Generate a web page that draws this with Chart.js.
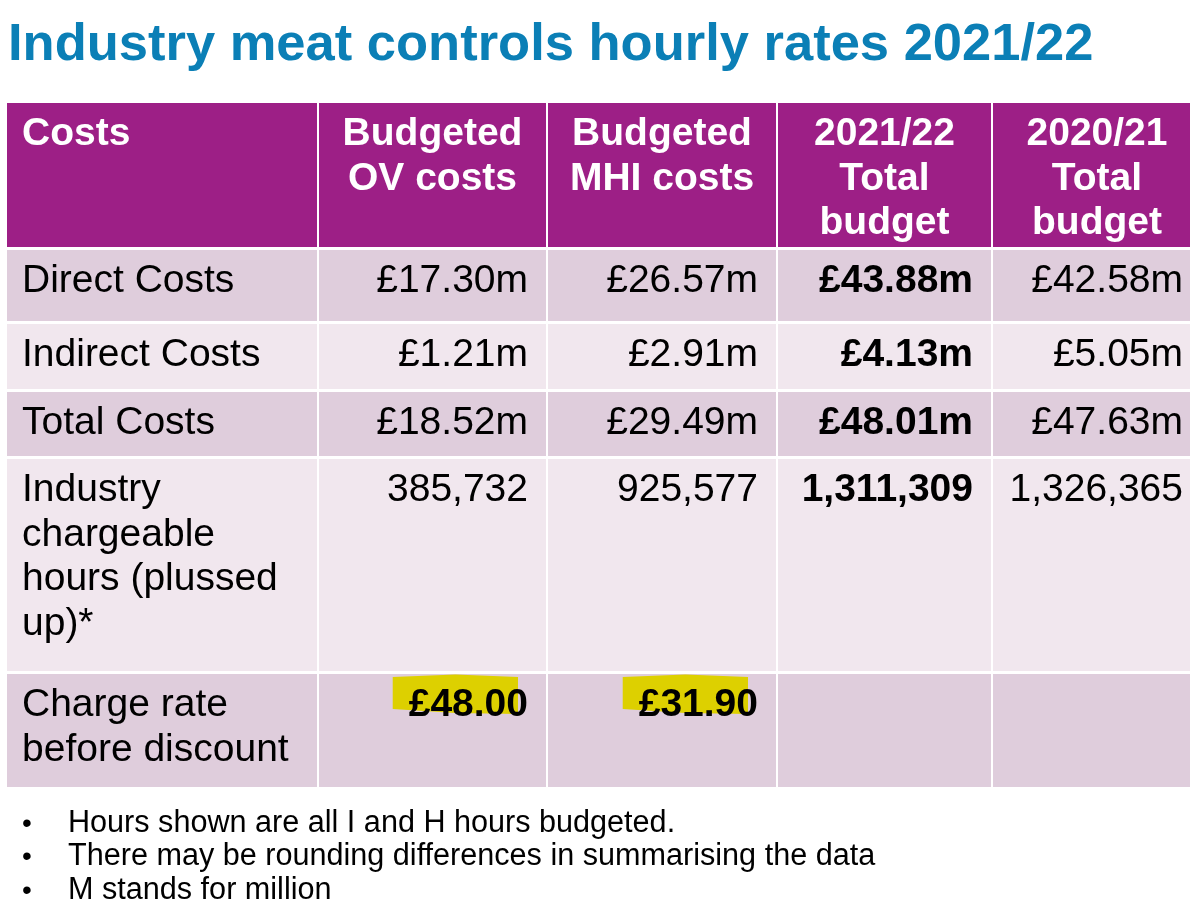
<!DOCTYPE html>
<html>
<head>
<meta charset="utf-8">
<title>Industry meat controls hourly rates 2021/22</title>
<script src="https://cdn.jsdelivr.net/npm/chart.js@4/dist/chart.umd.min.js"></script>
<style>
  html, body { margin: 0; padding: 0; background: #fff; }
  #wrap { width: 1190px; height: 900px; }
</style>
</head>
<body>
<div id="wrap"><canvas id="tableChart" width="1190" height="900"></canvas></div>
<script>
// ─── Data ─────────────────────────────────────
const title = 'Industry meat controls hourly rates 2021/22';
const headers = [
  ['Costs'],
  ['Budgeted', 'OV costs'],
  ['Budgeted', 'MHI costs'],
  ['2021/22', 'Total', 'budget'],
  ['2020/21', 'Total', 'budget'],
];
const rowLabels = [
  ['Direct Costs'],
  ['Indirect Costs'],
  ['Total Costs'],
  ['Industry', 'chargeable', 'hours (plussed', 'up)*'],
  ['Charge rate', 'before discount'],
];
const ovCosts    = ['£17.30m', '£1.21m', '£18.52m', '385,732', '£48.00'];
const mhiCosts   = ['£26.57m', '£2.91m', '£29.49m', '925,577', '£31.90'];
const total2122  = ['£43.88m', '£4.13m', '£48.01m', '1,311,309', ''];
const total2021  = ['£42.58m', '£5.05m', '£47.63m', '1,326,365', ''];
const highlighted = ['£48.00', '£31.90'];
const notes = [
  'Hours shown are all I and H hours budgeted.',
  'There may be rounding differences in summarising the data',
  'M stands for million',
];

// ─── Layout (value space of the x / y scales) ─
const colEdges = [7, 319, 548, 778, 993, 1203];
const rowEdges = [103, 250, 324, 392, 459, 674, 790];
const GAP = 3;
const boldCols = [3];            // 2021/22 column is bold
const FONT = '"Liberation Sans", Arial, sans-serif';
const C = {
  title: '#0b7fb6',
  head: '#9d1f86',
  dark: '#dfcddc',
  light: '#f1e7ee',
  text: '#000',
  mark: '#ddd000',
};

function drawText(ctx, text, x, y, font, align) {
  ctx.font = font;
  ctx.textAlign = align;
  ctx.textBaseline = 'alphabetic';
  ctx.fillText(text, x, y);
  return ctx.measureText(text).width;
}

const tablePlugin = {
  id: 'tablePlugin',
  afterDraw(chart) {
    const { ctx, scales: { x, y } } = chart;
    const px = v => x.getPixelForValue(v);
    const py = v => y.getPixelForValue(v);
    const columns = [rowLabels, ovCosts, mhiCosts, total2122, total2021];
    ctx.save();

    // title
    ctx.fillStyle = C.title;
    drawText(ctx, title, px(8), py(60), `bold 52.5px ${FONT}`, 'left');

    // header row
    headers.forEach((lines, c) => {
      const x0 = px(colEdges[c]), x1 = px(colEdges[c + 1] - 2);
      const y0 = py(rowEdges[0]), y1 = py(rowEdges[1] - GAP);
      ctx.fillStyle = C.head;
      ctx.fillRect(x0, y0, x1 - x0, y1 - y0);
      ctx.fillStyle = '#fff';
      lines.forEach((t, i) => {
        const base = py(rowEdges[0] + 42 + i * 44.5);
        if (c === 0) drawText(ctx, t, px(colEdges[0] + 15), base, `bold 39px ${FONT}`, 'left');
        else drawText(ctx, t, (x0 + x1) / 2, base, `bold 39px ${FONT}`, 'center');
      });
    });

    // body rows
    rowLabels.forEach((_, r) => {
      const y0 = py(rowEdges[r + 1]), y1 = py(rowEdges[r + 2] - GAP);
      columns.forEach((col, c) => {
        const x0 = px(colEdges[c]), x1 = px(colEdges[c + 1] - 2);
        ctx.fillStyle = r % 2 === 0 ? C.dark : C.light;
        ctx.fillRect(x0, y0, x1 - x0, y1 - y0);
        const base = rowEdges[r + 1] + 42;
        ctx.fillStyle = C.text;
        if (c === 0) {
          col[r].forEach((t, i) =>
            drawText(ctx, t, px(colEdges[0] + 15), py(base + i * 44.5), `39px ${FONT}`, 'left'));
          return;
        }
        const val = col[r];
        if (!val) return;
        const hl = highlighted.includes(val);
        const bold = hl || boldCols.includes(c);
        const font = `${bold ? 'bold ' : ''}39px ${FONT}`;
        const xr = px(colEdges[c + 1] - 20);
        if (hl) {
          // marker-pen highlight behind the figure
          ctx.font = font;
          const w = ctx.measureText(val).width;
          const l = xr - w - 16, rr = xr - 10, top = rowEdges[r + 1];
          ctx.fillStyle = C.mark;
          ctx.beginPath();
          ctx.moveTo(l, py(top + 3));
          ctx.lineTo((l + rr) / 2, py(top + 0.5));
          ctx.lineTo(rr, py(top + 3));
          ctx.lineTo(rr, py(base - 2));
          ctx.lineTo((l + rr) / 2, py(base - 3));
          ctx.lineTo(l, py(base - 7));
          ctx.closePath();
          ctx.fill();
          ctx.fillStyle = C.text;
        }
        drawText(ctx, val, xr, py(base), font, 'right');
      });
    });

    // notes
    ctx.fillStyle = C.text;
    notes.forEach((t, i) => {
      const base = py(832 + i * 33.3);
      drawText(ctx, '•', px(22), base, `28px ${FONT}`, 'left');
      drawText(ctx, t, px(68), base, `30.6px ${FONT}`, 'left');
    });
    ctx.restore();
  },
};

new Chart(document.getElementById('tableChart'), {
  type: 'scatter',
  data: { datasets: [] },
  options: {
    responsive: false,
    animation: false,
    events: [],
    layout: { padding: 0 },
    plugins: { legend: { display: false }, tooltip: { enabled: false } },
    scales: {
      x: { type: 'linear', min: 0, max: 1190, display: false },
      y: { type: 'linear', min: 0, max: 900, reverse: true, display: false },
    },
  },
  plugins: [tablePlugin],
});
</script>
</body>
</html>
